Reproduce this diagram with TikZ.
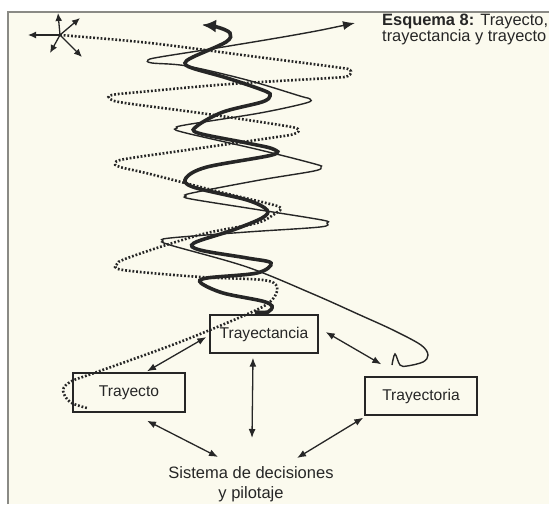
\documentclass[tikz,border=0pt]{standalone}
\usepackage{fontspec}
\setmainfont{Liberation Sans}
\usetikzlibrary{arrows.meta,calc}
\definecolor{bgc}{HTML}{FBFAEE}
\definecolor{ink}{HTML}{262626}
\definecolor{framec}{HTML}{8A8A85}
\begin{document}
\begin{tikzpicture}[x=1pt,y=-1pt,
  box/.style={draw=ink, line width=1.4pt, fill=bgc, inner sep=0pt, minimum height=38pt,
    font=\fontsize{15.6}{18}\selectfont, text=ink},
  link/.style={draw=ink, line width=1.3pt, {Latex[length=9pt,width=7pt]}-{Latex[length=9pt,width=7pt]}},
  starr/.style={draw=ink, line width=1.3pt, -{Latex[length=8pt,width=7pt]}},
  dotline/.style={draw=ink, line width=2.6pt, dash pattern=on 1.8pt off 1.9pt},
  thinline/.style={draw=ink, line width=1.4pt},
  thickline/.style={draw=ink, line width=3.6pt},
  lbl/.style={text=ink, inner sep=0pt}
]
\useasboundingbox (0,0) rectangle (549,504);
\clip (0,0) rectangle (549,504);
\fill[bgc] (0,0) rectangle (549,504);
\fill[white] (0,0) rectangle (549,12);
\fill[white] (0,0) rectangle (8,504);
\draw[framec, line width=1.5pt] (8,504) -- (8,12) -- (549,12);

% title
\node[lbl, anchor=base west, font=\fontsize{16.4}{18}\selectfont] (title1) at (382,25) {\textbf{Esquema 8:} Trayecto,};
\node[lbl, anchor=base west, font=\fontsize{16.4}{18}\selectfont] (title2) at (382,41) {trayectancia y trayecto};

% boxes
\node[box, minimum width=108pt] (tcia) at (264,334) {Trayectancia};
\node[box, minimum width=112pt, minimum height=39pt] (tyo) at (129,392.5) {Trayecto};
\node[box, minimum width=112pt] (tria) at (421,396) {Trayectoria};
\node[lbl, align=center, font=\fontsize{16.5}{20}\selectfont] (sis) at (251,484) {Sistema de decisiones\\y pilotaje};

% links
\draw[link] ($(tcia.west)+(-3,3)$) -- ($(tyo.north)+(18,-1)$);
\draw[link] ($(tcia.east)+(7,-2)$) -- ($(tria.north west)+(17,-12)$);
\draw[link] ($(tcia.south)+(-11,4)$) -- ($(sis.center)+(1,-46)$);
\draw[link] ($(tyo.south)+(18,8)$) -- ($(sis.center)+(-33,-27)$);
\draw[link] ($(tria.south west)+(-1,2)$) -- ($(sis.center)+(46,-26)$);

% star
\coordinate (star) at (60,35);
\draw[starr] (star) -- ++(-2,-22);
\draw[starr] (star) -- ++(20,-17);
\draw[starr] (star) -- ++(-32,0);
\draw[starr] (star) -- ++(-10,18);
\draw[starr] (star) -- ++(22,22);

% trayectoria (thin)
\draw[thinline, {Latex[length=12pt,width=9pt]}-] plot[smooth, tension=0.55] coordinates {
 (355,23) (300,34) (223,47) (160,57) (148,60) (152,63) (187,66) (247,80) (300,96) (310,99)
 (306,103) (260,113) (185,125) (177,128) (182,132) (260,150) (315,164) (321,167) (314,171)
 (260,180) (192,193) (186,196) (191,199) (260,210) (322,220) (327,223) (320,227) (247,232)
 (170,238) (163,241) (170,245) (247,267) (313,294) (360,315) (393,330) (421,345) (428,355)
 (423,362) (407,366) (400,365) (395,354) (392,365)};

% trayectancia (thick)
\draw[thickline, {Latex[length=14pt,width=13pt]}-] plot[smooth, tension=0.55] coordinates {
 (202,25) (217,27) (230,33) (226,42) (193,57) (185,63) (192,68) (227,78) (265,91) (270,96)
 (262,102) (223,112) (197,126) (198,133) (247,143) (273,149) (272,155) (207,167) (186,178)
 (193,187) (247,200) (267,210) (262,218) (233,230) (194,243) (200,250) (247,258) (271,263)
 (257,273) (207,278) (201,283) (223,293) (262,301) (272,306) (268,312) (255,312)};

% trayecto (dotted)
\draw[dotline] plot[smooth, tension=0.55] coordinates {
 (60,35) (150,43) (250,56) (335,67) (350,70) (348,76) (330,78) (230,84) (140,92) (112,95)
 (110,99) (125,103) (200,113) (280,125) (298,129) (294,134) (270,138) (180,151) (125,159)
 (115,163) (120,167) (150,174) (220,192) (270,204) (281,208) (276,213) (257,223) (207,233)
 (163,246) (125,259) (117,264) (123,270) (200,277) (263,280) (277,287) (272,300) (252,312)
 (180,342) (97,372) (72,381) (63,390) (70,402) (87,408)};
\end{tikzpicture}
\end{document}
